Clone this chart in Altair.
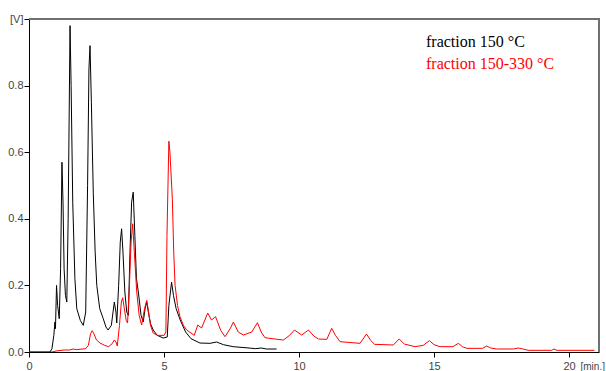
import altair as alt
import pandas as pd

# Retention time (min) and detector signal (V)
black_t = [0, 0.78, 0.85, 0.92, 0.96, 0.98, 1.02, 1.06, 1.12, 1.17, 1.22, 1.26, 1.30, 1.35, 1.40,
           1.45, 1.52, 1.56, 1.62, 1.70, 1.77, 1.90, 2.01, 2.10, 2.17, 2.22, 2.26, 2.31, 2.38, 2.45,
           2.51, 2.62, 2.75, 2.85, 2.93, 3.05, 3.16, 3.22, 3.25, 3.32, 3.38, 3.43, 3.48, 3.55, 3.62,
           3.68, 3.74, 3.80, 3.86, 3.92, 3.98, 4.05, 4.15, 4.23, 4.30, 4.36, 4.42, 4.50, 4.60, 4.75,
           4.97, 5.12, 5.18, 5.28, 5.35, 5.45, 5.60, 5.80, 6.00, 6.33, 6.70, 6.95, 7.20, 7.56, 8.00,
           8.40, 8.60, 8.80, 9.17]
black_v = [0, 0, 0.01, 0.05, 0.09, 0.07, 0.20, 0.14, 0.10, 0.25, 0.57, 0.45, 0.25, 0.17, 0.15,
           0.40, 0.98, 0.80, 0.45, 0.22, 0.13, 0.095, 0.08, 0.12, 0.50, 0.85, 0.92, 0.75, 0.48, 0.30,
           0.20, 0.13, 0.10, 0.075, 0.066, 0.08, 0.15, 0.12, 0.087, 0.20, 0.33, 0.37, 0.30, 0.18, 0.12,
           0.11, 0.30, 0.45, 0.48, 0.35, 0.22, 0.18, 0.11, 0.09, 0.13, 0.15, 0.12, 0.085, 0.066, 0.05,
           0.042, 0.045, 0.14, 0.21, 0.17, 0.13, 0.096, 0.06, 0.04, 0.027, 0.026, 0.03, 0.022, 0.016, 0.013,
           0.01, 0.012, 0.009, 0.009]

red_t = [0, 0.85, 1.0, 1.3, 1.5, 1.64, 1.75, 2.1, 2.2, 2.28, 2.34, 2.40, 2.5, 2.63, 2.8, 2.95,
         3.08, 3.16, 3.22, 3.27, 3.35, 3.42, 3.47, 3.53, 3.60, 3.65, 3.72, 3.78, 3.84, 3.90, 3.99,
         4.08, 4.17, 4.28, 4.36, 4.43, 4.50, 4.60, 4.75, 5.00, 5.07, 5.11, 5.18, 5.22, 5.31, 5.36,
         5.41, 5.50, 5.59, 5.72, 5.84, 6.12, 6.25, 6.39, 6.62, 6.76, 6.91, 7.10, 7.26, 7.45, 7.57,
         7.75, 7.94, 8.25, 8.46, 8.60, 8.74, 9.0, 9.42, 9.65, 9.83, 10.1, 10.35, 10.55, 10.72, 11.03,
         11.21, 11.35, 11.52, 12.26, 12.5, 12.65, 12.8, 13.49, 13.71, 13.9, 14.3, 14.6, 14.83, 15.0,
         15.22, 15.7, 15.9, 16.05, 16.21, 16.8, 16.95, 17.1, 17.32, 17.95, 18.12, 18.3, 18.49, 19.35,
         19.44, 19.55, 20.94]
red_v = [0, 0, 0.003, 0.006, 0.006, 0.009, 0.007, 0.01, 0.02, 0.055, 0.064, 0.055, 0.036, 0.027, 0.02, 0.016,
         0.025, 0.036, 0.03, 0.018, 0.08, 0.15, 0.163, 0.13, 0.095, 0.087, 0.2, 0.33, 0.385, 0.30, 0.18,
         0.11, 0.081, 0.13, 0.155, 0.12, 0.08, 0.057, 0.05, 0.05, 0.06, 0.35, 0.633, 0.60, 0.457, 0.30,
         0.20, 0.14, 0.106, 0.08, 0.066, 0.05, 0.081, 0.072, 0.117, 0.096, 0.106, 0.065, 0.046, 0.07, 0.09,
         0.06, 0.051, 0.06, 0.088, 0.06, 0.043, 0.04, 0.036, 0.05, 0.066, 0.051, 0.066, 0.048, 0.039, 0.038,
         0.071, 0.05, 0.031, 0.026, 0.054, 0.035, 0.023, 0.021, 0.039, 0.024, 0.016, 0.02, 0.034, 0.022,
         0.016, 0.016, 0.026, 0.016, 0.011, 0.011, 0.018, 0.012, 0.009, 0.009, 0.012, 0.009, 0.005, 0.005,
         0.009, 0.005, 0.005]

series_names = ["fraction 150 °C", "fraction 150-330 °C"]
series_colors = ["#000000", "#ff0000"]
x_ticks = [0, 5, 10, 15, 20]
y_ticks = [0.0, 0.2, 0.4, 0.6, 0.8, 1.0]

W, H = 570, 333

df = pd.concat([
    pd.DataFrame({"t": black_t, "v": black_v, "s": series_names[0], "o": range(len(black_t))}),
    pd.DataFrame({"t": red_t, "v": red_v, "s": series_names[1], "o": range(len(red_t))}),
])

x_scale = alt.Scale(domain=[0, 21.11], nice=False, zero=False)
y_scale = alt.Scale(domain=[0, 1.0], nice=False)

lines = alt.Chart(df).mark_line(strokeWidth=1, clip=True).encode(
    x=alt.X("t:Q", scale=x_scale,
            axis=alt.Axis(values=x_ticks, title="[min.]", titleX=551, titleY=9,
                          titleAlign="left", titleBaseline="top", titleFont="Liberation Sans",
                          titleFontSize=10, titleFontWeight="normal", titleColor="#444444",
                          labelFont="Liberation Sans", labelFontSize=11, labelColor="#444444",
                          labelPadding=3, tickSize=5, tickColor="#000000", domainColor="#000000",
                          grid=False, labelFlush=False)),
    y=alt.Y("v:Q", scale=y_scale,
            axis=alt.Axis(values=y_ticks, title=None,
                          labelExpr="datum.value >= 1 ? '[V]' : format(datum.value, '.1f')",
                          labelFont="Liberation Sans", labelFontSize=11, labelColor="#444444",
                          labelPadding=1, tickSize=5, tickColor="#000000", domainColor="#000000",
                          grid=False, labelFlush=False)),
    color=alt.Color("s:N", scale=alt.Scale(domain=series_names, range=series_colors), legend=None),
    order="o:Q",
    detail="s:N",
)

top_border = alt.Chart().mark_rule(color="#707070", strokeWidth=2).encode(
    x=alt.value(0), x2=alt.value(W + 1), y=alt.value(0))
right_border = alt.Chart().mark_rule(color="#707070", strokeWidth=2).encode(
    x=alt.value(W), y=alt.value(0), y2=alt.value(H))

legend_black = alt.Chart().mark_text(
    align="left", baseline="middle", font="Liberation Serif", fontSize=16, color=series_colors[0]
).encode(x=alt.value(397), y=alt.value(23), text=alt.value(series_names[0]))
legend_red = alt.Chart().mark_text(
    align="left", baseline="middle", font="Liberation Serif", fontSize=16, color=series_colors[1]
).encode(x=alt.value(397), y=alt.value(45), text=alt.value(series_names[1]))

chart = alt.layer(lines, top_border, right_border, legend_black, legend_red).properties(
    width=W, height=H,
    autosize=alt.AutoSizeParams(type="none"),
    padding={"left": 29, "top": 19, "right": 7, "bottom": 19},
).configure_view(stroke=None).configure(background="white")

chart.save("out.html", embed_options={"renderer": "svg", "actions": False})
